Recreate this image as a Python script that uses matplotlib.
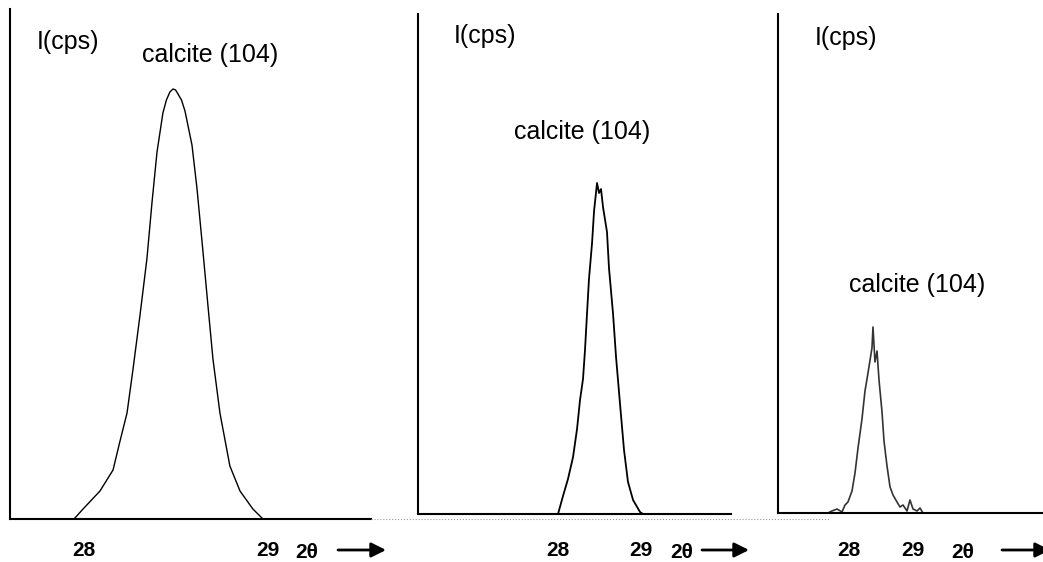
import numpy as np
import matplotlib.pyplot as plt
from matplotlib.lines import Line2D

plt.rcParams['font.family'] = ['Liberation Sans', 'DejaVu Sans']

# calcite (104) reflection, three samples (2theta in degrees, intensity in arbitrary cps)
two_theta_a = [27.946, 27.995, 28.087, 28.158, 28.196, 28.234, 28.266, 28.304, 28.342,
               28.370, 28.397, 28.429, 28.448, 28.467, 28.484, 28.498, 28.511, 28.530,
               28.549, 28.587, 28.614, 28.647, 28.674, 28.701, 28.739, 28.793, 28.848,
               28.918, 28.973]
counts_a = [0, 10, 28, 49, 78, 106, 149, 203, 260, 317, 367, 406, 419, 427, 430, 429,
            425, 419, 408, 374, 331, 267, 213, 160, 106, 53, 28, 10, 0]

two_theta_b = [28.000, 28.060, 28.120, 28.181, 28.229, 28.265, 28.301, 28.325, 28.349,
               28.373, 28.410, 28.434, 28.470, 28.494, 28.518, 28.542, 28.590, 28.614,
               28.663, 28.699, 28.747, 28.795, 28.843, 28.904, 28.988, 29.024]
counts_b = [0, 18, 35, 57, 85, 114, 135, 164, 200, 235, 271, 303, 331, 321, 325, 307,
            282, 246, 200, 157, 110, 64, 32, 14, 2, 0]

two_theta_c = [27.672, 27.734, 27.813, 27.891, 27.938, 27.984, 28.047, 28.094, 28.141,
               28.203, 28.250, 28.297, 28.359, 28.375, 28.406, 28.438, 28.469, 28.516,
               28.547, 28.594, 28.641, 28.688, 28.750, 28.797, 28.844, 28.906, 28.953,
               29.000, 29.063, 29.109, 29.156]
counts_c = [0, 2, 4, 1, 8, 11, 22, 40, 65, 94, 122, 140, 165, 186, 151, 162, 133, 101,
            72, 47, 26, 18, 11, 6, 8, 2, 13, 4, 2, 5, 0]

tick_pos = [28, 29]
tick_labels = ['28', '29']

W, H = 1043, 562
LABEL_Y = 550

# left, right, top, bottom in pixels; x range; line style
panels = [
    dict(box=(10, 371, 9, 519), xlim=(27.598, 29.560), x=two_theta_a, y=counts_a,
         lw=1.0, color='black', ylab=(68, 42), peak=(210, 55), theta=307, arrow=(338, 386)),
    dict(box=(418, 731, 14, 514), xlim=(26.313, 30.084), x=two_theta_b, y=counts_b,
         lw=1.3, color='black', ylab=(485, 36), peak=(582, 132), theta=682, arrow=(702, 749)),
    dict(box=(778, 1043, 14, 513), xlim=(26.891, 31.031), x=two_theta_c, y=counts_c,
         lw=1.2, color='#333333', ylab=(846, 38), peak=(917, 285), theta=963, arrow=(1002, 1050)),
]


def fx(px):
    return px / W


def fy(py):
    return 1 - py / H


fig = plt.figure(figsize=(W / 100, H / 100), dpi=100)

for p in panels:
    l, r, t, b = p['box']
    ax = fig.add_axes([fx(l), fy(b), (r - l) / W, (b - t) / H])
    ax.plot(p['x'], p['y'], color=p['color'], lw=p['lw'])
    ax.set_xlim(*p['xlim'])
    ax.set_ylim(0, b - t)
    for s in ['top', 'right']:
        ax.spines[s].set_visible(False)
    for s in ['left', 'bottom']:
        ax.spines[s].set_linewidth(1.5)
    ax.set_yticks([])
    ax.set_xticks(tick_pos)
    ax.set_xticklabels(tick_labels, fontsize=15, fontweight='bold')
    pad_px = LABEL_Y - b - 8.5
    ax.tick_params(axis='x', length=0, pad=pad_px * 0.72)
    ax.patch.set_alpha(0)

    fig.text(fx(p['ylab'][0]), fy(p['ylab'][1]), 'I(cps)', fontsize=18,
             ha='center', va='center')
    fig.text(fx(p['peak'][0]), fy(p['peak'][1]), 'calcite (104)', fontsize=18,
             ha='center', va='center')
    fig.text(fx(p['theta']), fy(LABEL_Y + 2), '2θ', fontsize=15, fontweight='bold',
             ha='center', va='center')
    a0, a1 = p['arrow']
    fig.add_artist(plt.Annotation('', xy=(fx(a1), fy(LABEL_Y)), xytext=(fx(a0), fy(LABEL_Y)),
                                  xycoords='figure fraction', textcoords='figure fraction',
                                  arrowprops=dict(arrowstyle='-|>', color='black', lw=2,
                                                  mutation_scale=22, shrinkA=0, shrinkB=0)))

# faint dotted scan line joining the pasted panels
fig.add_artist(Line2D([fx(371), fx(830)], [fy(519), fy(519)], color='#999999',
                      lw=0.8, ls=':'))

fig.savefig('out.png', dpi=100)
